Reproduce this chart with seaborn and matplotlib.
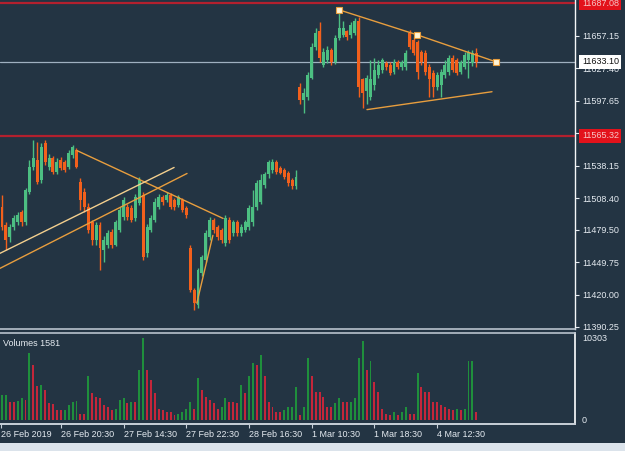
import numpy as np
import pandas as pd
import matplotlib
matplotlib.use("Agg")
import matplotlib.pyplot as plt
import matplotlib.transforms as mtransforms
from matplotlib.patches import Rectangle
import seaborn as sns

# M30 bars
open_ = [
    11500, 11484, 11473, 11482, 11486, 11496, 11486, 11514, 11537, 11543,
    11525, 11559, 11537, 11545, 11532, 11543, 11541, 11537, 11548, 11552,
    11523, 11514, 11500, 11486, 11470, 11484, 11461, 11465, 11477, 11465,
    11479, 11491, 11500, 11499, 11490, 11504, 11511, 11458, 11479, 11488,
    11500, 11509, 11507, 11511, 11507, 11502, 11507, 11499, 11463, 11424,
    11410, 11440, 11452, 11473, 11488, 11482, 11479, 11467, 11488, 11476,
    11486, 11476, 11479, 11482, 11486, 11500, 11505, 11520, 11530, 11534,
    11541, 11536, 11534, 11531, 11525, 11519,
    11610, 11598, 11601, 11618, 11647, 11661, 11630, 11635, 11644, 11633,
    11655, 11658, 11661, 11658, 11660, 11671, 11617, 11606, 11601, 11612,
    11621, 11626, 11632, 11630, 11624, 11633, 11628, 11628, 11660, 11653,
    11651, 11642, 11641, 11628, 11623, 11610, 11612, 11621, 11624, 11637,
    11635, 11624, 11628, 11635, 11632, 11641,
]
high = [
    11511, 11486, 11485, 11493, 11496, 11497, 11518, 11543, 11562, 11560,
    11559, 11562, 11549, 11547, 11545, 11546, 11543, 11552, 11557, 11554,
    11527, 11518, 11504, 11488, 11486, 11486, 11474, 11479, 11480, 11488,
    11500, 11509, 11503, 11502, 11512, 11528, 11514, 11485, 11493, 11508,
    11512, 11511, 11514, 11513, 11508, 11511, 11508, 11501, 11465, 11426,
    11444, 11456, 11479, 11491, 11490, 11484, 11481, 11493, 11491, 11488,
    11488, 11485, 11488, 11502, 11516, 11525, 11530, 11532, 11543, 11544,
    11543, 11538, 11536, 11533, 11527, 11534,
    11614, 11609, 11624, 11650, 11664, 11670, 11646, 11648, 11646, 11658,
    11682, 11671, 11662, 11670, 11673, 11674, 11618, 11621, 11635, 11637,
    11635, 11637, 11634, 11633, 11636, 11635, 11635, 11644, 11662, 11656,
    11653, 11644, 11644, 11631, 11626, 11624, 11627, 11635, 11639, 11639,
    11637, 11635, 11642, 11644, 11644, 11646,
]
low = [
    11479, 11461, 11468, 11479, 11484, 11483, 11484, 11512, 11534, 11521,
    11522, 11539, 11534, 11530, 11530, 11534, 11532, 11535, 11545, 11536,
    11497, 11496, 11476, 11465, 11465, 11442, 11450, 11463, 11463, 11464,
    11477, 11488, 11488, 11486, 11487, 11502, 11452, 11454, 11477, 11486,
    11498, 11502, 11505, 11498, 11497, 11500, 11496, 11490, 11422, 11406,
    11408, 11437, 11450, 11470, 11476, 11470, 11467, 11464, 11467, 11474,
    11474, 11474, 11477, 11479, 11483, 11497, 11503, 11518, 11527, 11531,
    11530, 11530, 11526, 11519, 11517, 11517,
    11595, 11586, 11598, 11617, 11644, 11633, 11628, 11632, 11630, 11631,
    11653, 11656, 11653, 11655, 11658, 11601, 11591, 11595, 11598, 11607,
    11618, 11623, 11626, 11621, 11622, 11627, 11626, 11626, 11645, 11639,
    11617, 11630, 11621, 11601, 11601, 11607, 11601, 11618, 11621, 11624,
    11621, 11622, 11627, 11618, 11629, 11628,
]
close = [
    11482, 11470, 11482, 11490, 11493, 11486, 11516, 11537, 11545, 11523,
    11555, 11541, 11545, 11532, 11541, 11536, 11534, 11550, 11555, 11537,
    11507, 11500, 11479, 11470, 11484, 11463, 11470, 11476, 11465, 11486,
    11497, 11507, 11491, 11488, 11509, 11525, 11454, 11482, 11490, 11505,
    11509, 11505, 11511, 11500, 11500, 11509, 11497, 11493, 11424, 11412,
    11442, 11454, 11476, 11488, 11479, 11473, 11470, 11490, 11470, 11486,
    11476, 11482, 11486, 11499, 11500, 11522, 11525, 11530, 11541, 11541,
    11532, 11531, 11528, 11522, 11519, 11528,
    11598, 11605, 11621, 11647, 11660, 11637, 11642, 11644, 11633, 11655,
    11664, 11664, 11656, 11667, 11671, 11610, 11605, 11618, 11617, 11626,
    11630, 11635, 11628, 11623, 11633, 11628, 11633, 11641, 11647, 11641,
    11624, 11633, 11624, 11617, 11610, 11621, 11624, 11630, 11637, 11626,
    11623, 11633, 11639, 11642, 11641, 11633,
]
volume = [
    3100, 3150, 2260, 2240, 2300, 2680, 2470, 8330, 6870, 4230,
    4300, 3730, 2050, 2000, 1220, 1200, 1250, 1850, 2260, 2300,
    790, 780, 5400, 3310, 2890, 2680, 1850, 1630, 1220, 1420,
    2470, 2680, 2050, 2260, 2250, 6240, 10210, 6240, 4980, 3310,
    1420, 1220, 1000, 990, 590, 790, 1000, 1420, 2260, 1420,
    5190, 3730, 2890, 2470, 2050, 1420, 1630, 2680, 2260, 2250,
    2050, 4360, 3310, 5400, 7070, 6870, 8120, 5400, 2260, 1630,
    1000, 990, 1220, 1630, 1640, 4140, 600, 1630, 7700, 5400,
    3520, 3510, 2890, 1630, 1620, 2050, 2680, 2260, 2250, 2270,
    2680, 7700, 9800, 6240, 7280, 4770, 3520, 1420, 790, 590,
    1000, 590, 1000, 1630, 790, 780, 5820, 4140, 3520, 3500,
    2260, 2250, 1850, 1630, 1420, 1220, 1420, 1220, 1420, 7280,
    7300, 1000,
]

tick_bars = [15, 31, 47, 63, 79, 95, 111]
tick_labels = ["26 Feb 20:30", "27 Feb 14:30", "27 Feb 22:30", "28 Feb 16:30",
               "1 Mar 10:30", "1 Mar 18:30", "4 Mar 12:30"]
first_label = "26 Feb 2019"
price_ticks = [11657.15, 11627.40, 11597.65, 11567.90, 11538.15,
               11508.40, 11479.50, 11449.75, 11420.00, 11390.25]
red_levels = [11687.08, 11565.32]
last_price = 11633.10
max_volume = 10303
volume_title = "Volumes 1581"

# hand drawn objects, as (bar, price) points
tri_top_bars, tri_top_prices = [86.0, 105.9, 126.0], [11680.8, 11657.9, 11633.2]
tri_low_bars, tri_low_prices = [93.1, 125.0], [11589.4, 11605.8]
down_bars, down_prices = [19.1, 56.4], [11551.9, 11489.7]
up_a_bars, up_a_prices = [-5.0, 43.9], [11449.8, 11536.4]
up_b_bars, up_b_prices = [-5.0, 47.2], [11435.8, 11530.9]
rebound_bars, rebound_prices = [49.7, 53.8], [11412.1, 11474.2]

df = pd.DataFrame({"open": open_, "high": high, "low": low,
                   "close": close, "volume": volume})
df["bar"] = np.arange(len(df))
df["bull"] = df["close"] >= df["open"]
df["vol_dir"] = np.where(df["volume"].diff().fillna(1) > 0, "up", "down")

bg = "#233443"
txt = "#e4eaf0"
bull_c, bear_c = "#4cbf82", "#f2601c"
line_c, line_c2 = "#e89e3e", "#f3cf8e"

sns.set_theme(style="dark", rc={"axes.facecolor": bg, "figure.facecolor": bg,
                                "axes.grid": False})
plt.rcParams["font.family"] = ["Liberation Sans", "DejaVu Sans"]

fig = plt.figure(figsize=(6.25, 4.51), dpi=100)
fig.patches.append(Rectangle((0, 0), 1, 8 / 451, transform=fig.transFigure,
                             facecolor="#dbe3eb", edgecolor="none"))
ax = fig.add_axes([0, 1 - 329 / 451, 575 / 625, 329 / 451])
axv = fig.add_axes([0, 1 - 424 / 451, 575 / 625, 91 / 451])

xlim = (-0.51, 146.17)

# candles
colors = np.where(df["bull"], bull_c, bear_c)
ax.vlines(df["bar"], df["low"], df["high"], colors=colors, linewidth=1, zorder=3)
body = (df["close"] - df["open"]).abs().clip(lower=0.8)
ax.bar(df["bar"], body, bottom=df[["open", "close"]].min(axis=1), width=0.76,
       color=colors, linewidth=0, edgecolor="none", zorder=4)

# levels
for lvl in red_levels:
    ax.axhline(lvl, color="#b3202e", linewidth=1.6, zorder=2)
ax.axhline(last_price, color="#9fb0c0", linewidth=0.9, zorder=2)

# trend lines
ax.plot(tri_top_bars, tri_top_prices, color=line_c, linewidth=1, zorder=5)
ax.plot(tri_top_bars, tri_top_prices, linestyle="none", marker="s", markersize=4,
        markerfacecolor="#fff4d6", markeredgecolor=line_c, markeredgewidth=0.8,
        zorder=6)
ax.plot(tri_low_bars, tri_low_prices, color=line_c, linewidth=1, zorder=5)
ax.plot(down_bars, down_prices, color=line_c, linewidth=1, zorder=5)
ax.plot(up_a_bars, up_a_prices, color=line_c2, linewidth=1, zorder=5)
ax.plot(up_b_bars, up_b_prices, color=line_c, linewidth=1, zorder=5)
ax.plot(rebound_bars, rebound_prices, color=line_c, linewidth=1, zorder=5)

ax.set_xlim(*xlim)
ax.set_ylim(11388.4, 11689.83)
ax.set_xticks([])
ax.yaxis.tick_right()
ax.set_yticks(price_ticks)
ax.set_yticklabels([f"{p:.2f}" for p in price_ticks])
ax.tick_params(axis="y", direction="out", length=3, width=0.8, color=txt,
               labelcolor=txt, labelsize=6.5, pad=2, right=True, left=False)
for s in ["top", "left"]:
    ax.spines[s].set_visible(False)
ax.spines["right"].set_color("#f4f6f8")
ax.spines["right"].set_linewidth(1)
ax.spines["bottom"].set_color("#b8c2cc")
ax.spines["bottom"].set_linewidth(1.2)

# price labels on the scale (they sit over the regular tick labels, as in the terminal)
trans = mtransforms.blended_transform_factory(ax.transAxes, ax.transData)
for lvl in red_levels:
    ax.text(1.012, lvl, f"{lvl:.2f}", transform=trans, ha="left", va="center",
            fontsize=6.5, color="#f6c6c6", clip_on=False, zorder=10,
            bbox=dict(boxstyle="square,pad=0.28", facecolor="#e3121b",
                      edgecolor="none"))
ax.text(1.012, last_price, f"{last_price:.2f}", transform=trans, ha="left",
        va="center", fontsize=6.5, color="#111111", clip_on=False, zorder=10,
        bbox=dict(boxstyle="square,pad=0.28", facecolor="#ffffff",
                  edgecolor="none"))

# volumes
sns.barplot(data=df, x="bar", y="volume", hue="vol_dir", native_scale=True,
            palette={"up": "#1f8f3c", "down": "#c4263a"}, width=0.5,
            saturation=1, errorbar=None, legend=False, linewidth=0,
            edgecolor="none", ax=axv)
axv.set_xlim(*xlim)
axv.set_ylim(-497, 10800)
axv.set_xlabel("")
axv.set_ylabel("")
axv.yaxis.tick_right()
axv.set_yticks([0, max_volume])
axv.set_yticklabels(["0", str(max_volume)])
axv.tick_params(axis="y", length=0, labelcolor=txt, labelsize=6.5, pad=5,
                right=True, left=False)
axv.set_xticks([-0.3] + tick_bars)
axv.set_xticklabels([first_label] + tick_labels, ha="left")
axv.tick_params(axis="x", direction="out", length=3, width=0.8, color="#c8d0d8",
                labelcolor=txt, labelsize=6.5, pad=1.5, bottom=True)
for lbl in axv.get_xticklabels():
    lbl.set_horizontalalignment("left")
axv.spines["left"].set_visible(False)
axv.spines["top"].set_color("#b8c2cc")
axv.spines["top"].set_linewidth(1.2)
axv.spines["right"].set_color("#f4f6f8")
axv.spines["bottom"].set_color("#c8d0d8")
axv.spines["bottom"].set_linewidth(1.4)
axv.text(0.005, 0.93, volume_title, transform=axv.transAxes, ha="left",
         va="top", fontsize=6.5, color=txt)

fig.savefig("out.png", dpi=100, facecolor=bg)
